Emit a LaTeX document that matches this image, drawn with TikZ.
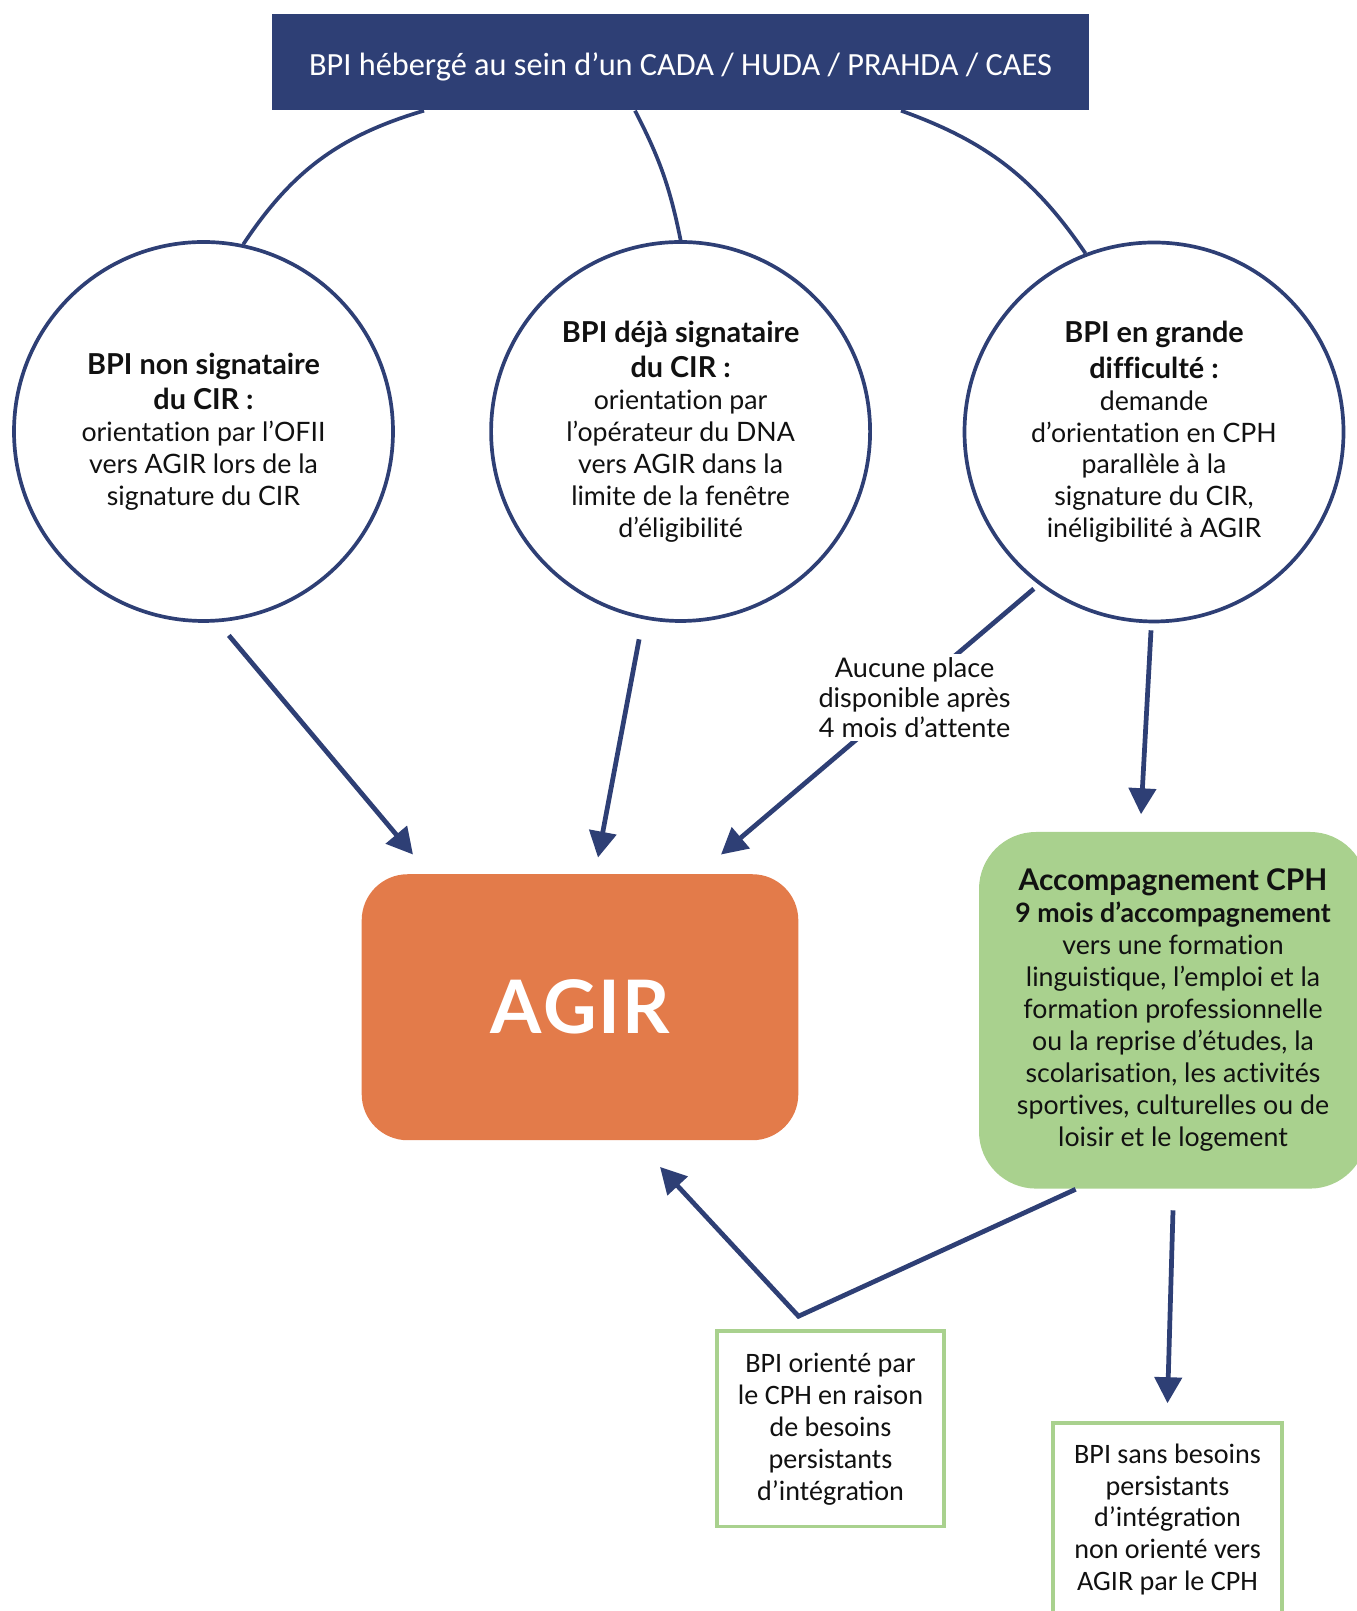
\documentclass[tikz,border=0pt]{standalone}
\usepackage{fontspec}
\setmainfont[Ligatures=NoCommon]{Lato}
\newfontfamily\calib{Carlito}
\usetikzlibrary{arrows.meta,positioning}
\definecolor{cNavy}{HTML}{2E3F75}
\definecolor{cOrange}{HTML}{E37B4A}
\definecolor{cGreen}{HTML}{A9D18E}
\definecolor{cInk}{HTML}{111111}
\newcommand{\hd}[1]{{\fontsize{8.2}{10}\selectfont\bfseries #1}}
\tikzset{
  every node/.style={font=\fontsize{7.6}{9.1}\selectfont, text=cInk},
  bubble/.style={circle, draw=cNavy, line width=1.05pt, fill=white, minimum size=3.79cm, inner sep=0pt, align=center},
  outbox/.style={draw=cGreen, line width=1pt, fill=white, align=center, inner sep=0pt, font=\calib\fontsize{8}{9.1}\selectfont},
  link/.style={draw=cNavy, line width=1.05pt},
  arr/.style={-{Triangle[length=0.26cm,width=0.27cm]}, draw=cNavy, line width=1.35pt},
}
\begin{document}
\begin{tikzpicture}[x=1cm,y=1cm]
\useasboundingbox (0,0) rectangle (13.56,16.11);
% ---------------- top: accommodation
\node[fill=cNavy, minimum width=8.17cm, minimum height=0.96cm, text height=1em, text depth=0.25em, text=white, font=\calib\fontsize{9.2}{11}\selectfont] (top) at (6.805,15.49) {BPI hébergé au sein d’un CADA / HUDA / PRAHDA / CAES};

% ---------------- three situations
\node[bubble] (c1) at (2.035,11.795) {\hd{BPI non signataire}\\[1pt]\hd{du CIR :}\\orientation par l’OFII\\vers AGIR lors de la\\signature du CIR};
\node[bubble] (c2) at (6.806,11.795) {\hd{BPI déjà signataire}\\[1pt]\hd{du CIR :}\\orientation par\\l’opérateur du DNA\\vers AGIR dans la\\limite de la fenêtre\\d’éligibilité};
\node[bubble] (c3) at (11.54,11.79) {\hd{BPI en grande}\\[1pt]\hd{difficulté :}\\demande\\d’orientation en CPH\\parallèle à la\\signature du CIR,\\inéligibilité à AGIR};
\draw[link] ([xshift=-2.565cm]top.south) to[bend right=20] (c1.78);
\draw[link] ([xshift=-0.455cm]top.south) to[bend left=8] (c2.north);
\draw[link] ([xshift=2.205cm]top.south) to[bend left=18] (c3.111);

% ---------------- AGIR and CPH
\node[fill=cOrange, rounded corners=0.46cm, minimum width=4.366cm, minimum height=2.66cm, text=white, font=\fontsize{21}{24}\selectfont\bfseries] (agir) at (5.80,6.0375) {A\kern0.5pt G\kern0.5pt I\kern0.5pt R};
\node[fill=cGreen, rounded corners=0.57cm, minimum width=3.88cm, minimum height=3.566cm, align=center, inner sep=0pt] (cph) at (11.73,6.007) {{\fontsize{8.5}{10}\selectfont\bfseries Accompagnement CPH}\\{\bfseries 9 mois d’accompagnement}\\vers une formation\\linguistique, l’emploi et la\\formation professionnelle\\ou la reprise d’études, la\\scolarisation, les activités\\sportives, culturelles ou de\\loisir et le logement};

\draw[arr] ([xshift=0.02cm,yshift=-0.14cm]c1.-83) -- ([xshift=0.52cm,yshift=0.19cm]agir.north west);
\draw[arr] ([xshift=-0.05cm,yshift=-0.2cm]c2.-101) -- ([xshift=0.18cm,yshift=0.16cm]agir.north);
\draw[arr] ([xshift=-0.05cm,yshift=-0.04cm]c3.-127) -- node[pos=0.41, xshift=0.09cm, fill=white, align=center, inner sep=1pt, font=\fontsize{7.7}{8.5}\selectfont] (wait) {Aucune place\\disponible après\\4 mois d’attente} ([xshift=1.41cm,yshift=0.19cm]agir.north);
\draw[arr] ([xshift=-0.03cm,yshift=-0.07cm]c3.south) -- ([xshift=-0.32cm,yshift=0.17cm]cph.north);

% ---------------- after CPH
\node[outbox, minimum width=2.27cm, minimum height=1.956cm] (orient) at (8.305,1.822) {BPI orienté par\\le CPH en raison\\de besoins\\persistants\\d’intégration};
\node[outbox, minimum width=2.29cm, minimum height=1.93cm] (sans) at (11.675,0.915) {BPI sans besoins\\persistants\\d’intégration\\non orienté vers\\AGIR par le CPH};
\draw[arr] ([xshift=-0.974cm]cph.south) -- ([xshift=-0.32cm,yshift=0.13cm]orient.north) -- ([xshift=0.8cm,yshift=-0.26cm]agir.south);
\draw[arr] ([yshift=-0.21cm]cph.south) -- ([yshift=0.18cm]sans.north);
\end{tikzpicture}
\end{document}
